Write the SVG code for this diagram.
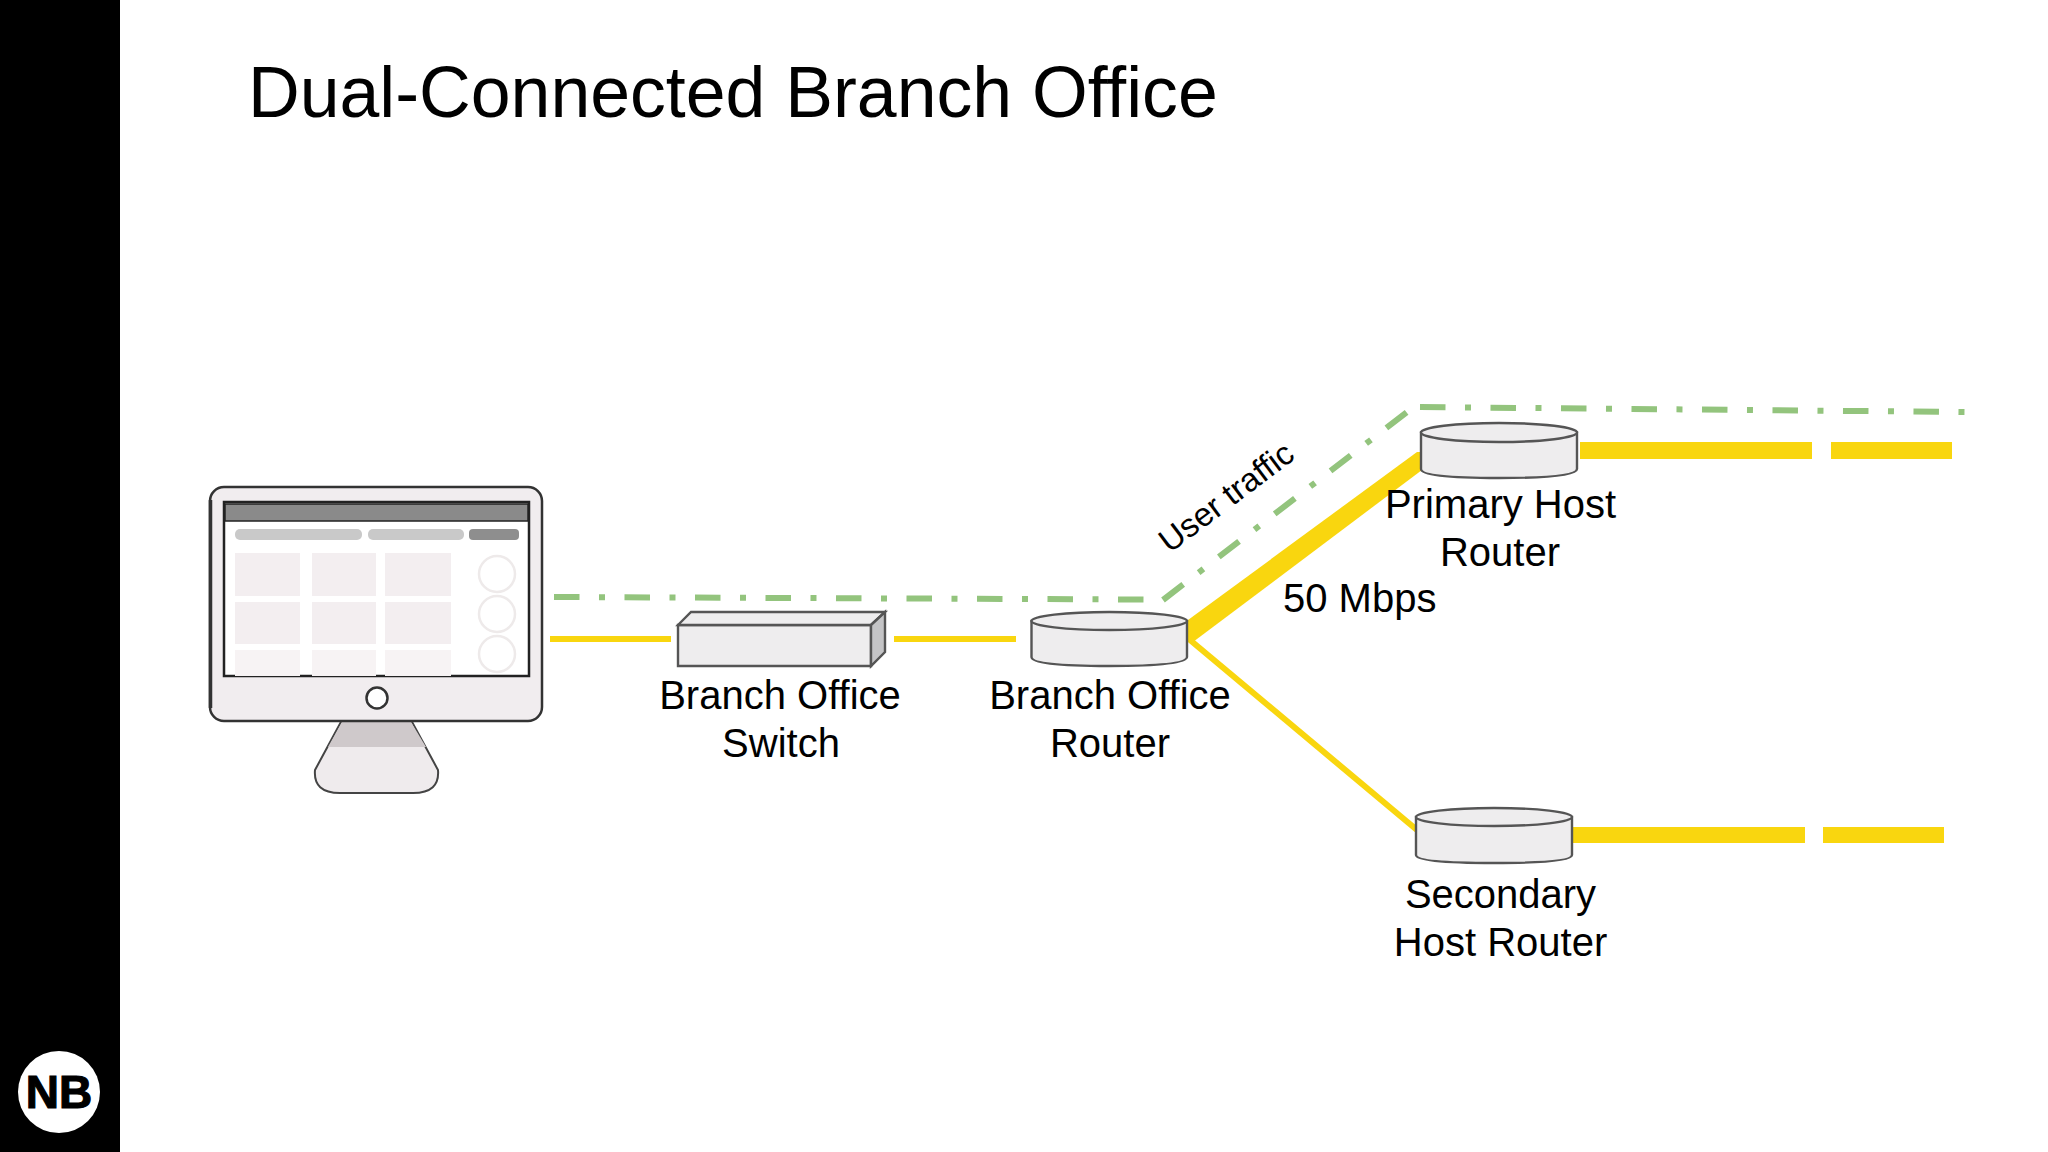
<svg xmlns="http://www.w3.org/2000/svg" width="2048" height="1152" viewBox="0 0 2048 1152">
<defs>
<style>
text{font-family:"Liberation Sans",Arial,sans-serif;fill:#000}
.lbl{font-size:40px;text-anchor:middle}
.g{fill:none;stroke:#93c47d;stroke-width:6;stroke-dasharray:25.5 19.5 6 19.5}
.y{fill:#f9d60f;stroke:none}
.yl{fill:none;stroke:#f9d60f;stroke-width:6}
.dev{fill:#eeedee;stroke:#555;stroke-width:2.4}
.tile{fill:#f3eef0}
.tile2{fill:#f7f3f4}
.ring{fill:none;stroke:#eeeaea;stroke-width:2.5}
</style>
<clipPath id="scr"><rect x="224" y="502" width="305" height="174"/></clipPath>
</defs>
<rect width="2048" height="1152" fill="#fff"/>
<rect id="sidebar" x="0" y="0" width="120" height="1152" fill="#000"/>
<g id="logo">
<circle cx="59" cy="1092" r="41" fill="#fff"/>
<text x="59" y="1108" font-size="46" font-weight="700" text-anchor="middle" style="stroke:#000;stroke-width:1.2">NB</text>
</g>
<text id="title" x="248" y="117" font-size="71.6">Dual-Connected Branch Office</text>
<g id="connectors">
<path class="g" d="M554 597L1144 599.5"/>
<path class="g" d="M1163 600L1407 412"/>
<path class="g" d="M1420 407L1964.5 412"/>
<path class="yl" d="M550 639H671M894 639H1016"/>
<path class="y" d="M1188 620L1417 452H1422V470L1193 642H1188Z"/>
<path class="yl" d="M1190 640L1417 830"/>
<path class="y" d="M1580 442H1812V459H1580ZM1831 442H1952V459H1831Z"/>
<path class="y" d="M1572 827H1805V843H1572ZM1823 827H1944V843H1823Z"/>
</g>
<g id="computer">
<path d="M342 720L315 770Q313 793 340 793H413Q440 793 438 770L411 720Z" fill="#efebed" stroke="#444" stroke-width="2"/>
<path d="M342 722H411L426 747H328Z" fill="#cfc9cb"/>
<rect x="210" y="487" width="332" height="234" rx="14" fill="#f1edef" stroke="#333" stroke-width="2.500"/>
<path d="M210.500 500V708" fill="none" stroke="#333" stroke-width="3.500"/>
<rect x="224" y="502" width="305" height="174" fill="#fff" stroke="#222" stroke-width="2.500"/>
<rect x="225" y="504" width="303" height="17" fill="#8a8a8a" stroke="#222" stroke-width="1.500"/>
<rect x="235" y="529" width="127" height="11" rx="5" fill="#c9c9c9"/>
<rect x="368" y="529" width="96" height="11" rx="5" fill="#c9c9c9"/>
<rect x="469" y="529" width="50" height="11" rx="4" fill="#8e8e8e"/>
<g clip-path="url(#scr)">
<rect class="tile" x="235" y="553" width="65" height="43"/>
<rect class="tile" x="312" y="553" width="64" height="43"/>
<rect class="tile" x="385" y="553" width="66" height="43"/>
<rect class="tile" x="235" y="602" width="65" height="42"/>
<rect class="tile" x="312" y="602" width="64" height="42"/>
<rect class="tile" x="385" y="602" width="66" height="42"/>
<rect class="tile2" x="235" y="650" width="65" height="26"/>
<rect class="tile2" x="312" y="650" width="64" height="26"/>
<rect class="tile2" x="385" y="650" width="66" height="26"/>
<circle class="ring" cx="497" cy="574" r="18"/>
<circle class="ring" cx="497" cy="614" r="18"/>
<circle class="ring" cx="497" cy="654" r="18"/>
</g>
<circle cx="377" cy="698" r="10.500" fill="#fff" stroke="#333" stroke-width="2.500"/>
</g>
<g id="switch">
<path class="dev" d="M678 625V666H871V625Z"/>
<path class="dev" d="M678 625L691 612H885L871 625Z"/>
<path d="M871 625L885 612V652L871 666Z" fill="#c4c4c6" stroke="#555" stroke-width="2.400"/>
<text class="lbl" x="780" y="709">Branch Office</text>
<text class="lbl" x="781" y="757">Switch</text>
</g>
<g id="branch-router">
<path class="dev" d="M1031.500 621V657Q1031.500 666 1109 666T1187 657V621Z"/>
<ellipse class="dev" cx="1109.250" cy="621" rx="77.750" ry="9"/>
<text class="lbl" x="1110" y="709">Branch Office</text>
<text class="lbl" x="1110" y="757">Router</text>
</g>
<g id="primary-router">
<path class="dev" d="M1421 432.500V469Q1421 478 1499 478T1577 469V432.500Z"/>
<ellipse class="dev" cx="1499" cy="432.500" rx="78" ry="9.500"/>
<text class="lbl" x="1500.500" y="518">Primary Host</text>
<text class="lbl" x="1500" y="566">Router</text>
</g>
<g id="secondary-router">
<path class="dev" d="M1416 817V855Q1416 863 1494 863T1572 855V817Z"/>
<ellipse class="dev" cx="1494" cy="817" rx="78" ry="9"/>
<text class="lbl" x="1500.500" y="908">Secondary</text>
<text class="lbl" x="1500.500" y="956">Host Router</text>
</g>
<g id="labels">
<text x="1283" y="612" font-size="40">50 Mbps</text>
<text x="0" y="0" font-size="33" text-anchor="middle" transform="translate(1233 506) rotate(-37)">User traffic</text>
</g>
</svg>
